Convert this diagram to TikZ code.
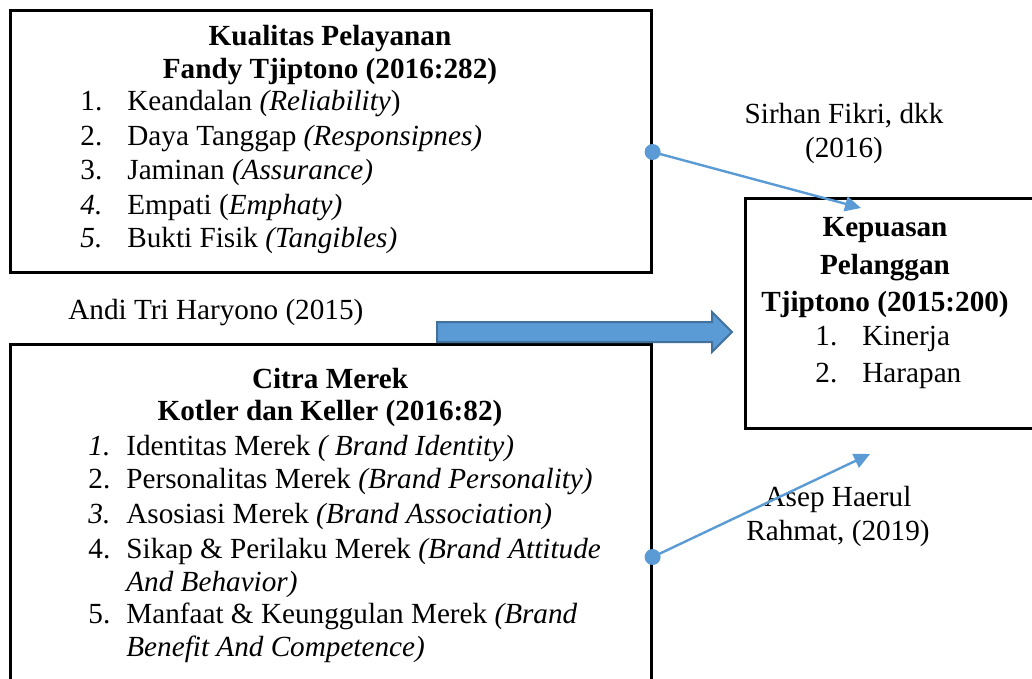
\documentclass[tikz,border=0pt]{standalone}
\usepackage{fontspec}
\setmainfont{Liberation Serif}
\usetikzlibrary{arrows.meta, positioning, calc}

\definecolor{linkblue}{HTML}{5B9BD5}
\definecolor{linkedge}{HTML}{41719C}

\begin{document}
\begin{tikzpicture}[
        x=0.5pt, y=-0.5pt,
        framebox/.style={
            draw,
            line width=1.3pt,
            anchor=north west,
            inner sep=0pt
        },
        heading/.style={
            anchor=base,
            inner sep=0pt,
            font=\fontsize{14.6}{17}\selectfont\bfseries
        },
        itemnum/.style={
            anchor=base west,
            inner sep=0pt,
            font=\fontsize{14.6}{17}\selectfont
        },
        itemtext/.style={
            itemnum
        },
        source/.style={
            align=center,
            inner sep=0pt,
            font=\fontsize{14.6}{17}\selectfont
        },
        linkarrow/.style={
            -{Triangle[length=8pt, width=7.5pt]},
            line width=1.2pt,
            linkblue
        },
        blockarrow/.style={
            fill=linkblue,
            draw=linkedge,
            line width=1pt
        }
    ]

        \useasboundingbox (0,0) rectangle (1032,679);
        \clip (0,0) rectangle (1032,679);

        % ---------------------------------------------------------------------
        % Variable boxes
        % ---------------------------------------------------------------------

        \node[
            framebox,
            minimum width=320.5pt,
            minimum height=131pt
        ] (kp) at (9,9) {};

        \node[
            framebox,
            minimum width=320.5pt,
            minimum height=190pt
        ] (cm) at (9,343) {};

        \node[
            framebox,
            minimum width=160pt,
            minimum height=115pt
        ] (kpl) at (744,197) {};

        % ---------------------------------------------------------------------
        % Kualitas Pelayanan
        % ---------------------------------------------------------------------

        \node[heading] (kp-title) at (330,46) {Kualitas Pelayanan};
        \node[heading] (kp-author) at (330,79) {Fandy Tjiptono (2016:282)};

        \foreach \y/\num/\desc [count=\i] in {
            111/1./{Keandalan \textit{(Reliability})},
            146/2./{Daya Tanggap \textit{(Responsipnes)}},
            180/3./{Jaminan \textit{(Assurance)}},
            214/\textit{4.}/{Empati (\textit{Emphaty)}},
            248/\textit{5.}/{Bukti Fisik \textit{(Tangibles)}}
        } {
            \node[itemnum] (kp-num\i) at (80,\y) {\num};
            \node[itemtext] (kp-item\i) at (127,\y) {\desc};
        }

        % ---------------------------------------------------------------------
        % Citra Merek
        % ---------------------------------------------------------------------

        \node[heading] (cm-title) at (330,388) {Citra Merek};
        \node[heading] (cm-author) at (330,420) {Kotler dan Keller (2016:82)};

        \foreach \y/\num/\desc [count=\i] in {
            455/\textit{1.}/{Identitas Merek \textit{( Brand Identity)}},
            488/2./{Personalitas Merek \textit{(Brand Personality)}},
            523/\textit{3.}/{Asosiasi Merek \textit{(Brand Association)}},
            558/4./{Sikap \& Perilaku Merek \textit{(Brand Attitude}},
            623/5./{Manfaat \& Keunggulan Merek \textit{(Brand}}
        } {
            \node[itemnum] (cm-num\i) at (88,\y) {\num};
            \node[itemtext] (cm-item\i) at (126,\y) {\desc};
        }
        \node[itemtext] (cm-item4b) at (126,591) {\textit{And Behavior)}};
        \node[itemtext] (cm-item5b) at (126,656) {\textit{Benefit And Competence)}};

        % ---------------------------------------------------------------------
        % Kepuasan Pelanggan
        % ---------------------------------------------------------------------

        \node[heading] (kpl-title1) at (885,236) {Kepuasan};
        \node[heading] (kpl-title2) at (885,274) {Pelanggan};
        \node[heading] (kpl-author) at (885,311) {Tjiptono (2015:200)};

        \node[itemnum] (kpl-num1) at (815,345) {1.};
        \node[itemtext] (kpl-item1) at (862,345) {Kinerja};
        \node[itemnum] (kpl-num2) at (815,382) {2.};
        \node[itemtext] (kpl-item2) at (862,382) {Harapan};

        % ---------------------------------------------------------------------
        % Sources
        % ---------------------------------------------------------------------

        \node[source] (src-sirhan) at (844,133) {Sirhan Fikri, dkk\\(2016)};
        \node[itemtext] (src-andi) at (68,319) {Andi Tri Haryono (2015)};
        \node[source] (src-asep) at (838,516) {Asep Haerul\\Rahmat, (2019)};

        % ---------------------------------------------------------------------
        % Links
        % ---------------------------------------------------------------------

        \coordinate (kp-out) at ($(kp.north east)+(0,143)$);
        \coordinate (cm-out) at ($(cm.north east)+(0,214)$);
        \coordinate (kp-end) at (861,208);
        \coordinate (cm-end) at (870,454);

        \draw[linkarrow] (kp-out) -- (kp-end);
        \draw[linkarrow] (cm-out) -- (cm-end);
        \fill[linkblue] (kp-out) circle (4pt);
        \fill[linkblue] (cm-out) circle (4pt);

        \draw[blockarrow]
            (437,322) -- (712,322) -- (712,312) -- (732,332)
            -- (712,352) -- (712,342) -- (437,342) -- cycle;

    \end{tikzpicture}
\end{document}
